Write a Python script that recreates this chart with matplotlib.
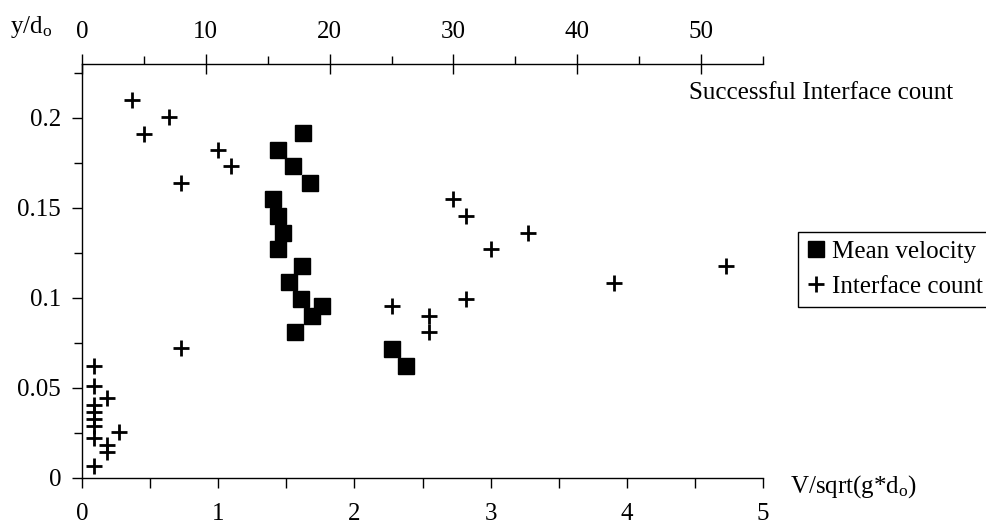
import matplotlib
matplotlib.use("Agg")
import matplotlib.pyplot as plt
from matplotlib.ticker import FixedLocator
from matplotlib.lines import Line2D

plt.rcParams['font.family'] = ['Liberation Serif', 'DejaVu Serif']
plt.rcParams['mathtext.fontset'] = 'custom'
plt.rcParams['mathtext.rm'] = 'Liberation Serif'
plt.rcParams['mathtext.it'] = 'Liberation Serif:italic'

# Mean velocity (bottom axis: V/sqrt(g*do))
mv_x = [1.62, 1.44, 1.547, 1.674, 1.405, 1.44, 1.478, 1.44, 1.613, 1.52,
        1.608, 1.764, 1.686, 1.564, 2.274, 2.379]
mv_y = [0.1917, 0.1824, 0.1732, 0.1639, 0.1547, 0.1454, 0.1361, 0.1271,
        0.1178, 0.1086, 0.0993, 0.0956, 0.0900, 0.0808, 0.0715, 0.0622]

# Interface count (top axis: successful interface count)
ic_x = [4, 7, 5, 11, 12, 8, 8, 25, 30, 31, 36, 33, 31, 43, 28, 28, 52,
        1, 1, 2, 1, 1, 1, 1, 1, 3, 2, 2, 1]
ic_y = [0.2098, 0.2006, 0.1913, 0.1824, 0.1732, 0.1639, 0.0719, 0.0956,
        0.1547, 0.1454, 0.1361, 0.1269, 0.0991, 0.1083, 0.0898, 0.0808, 0.1178,
        0.0622, 0.0511, 0.0441, 0.0404, 0.0363, 0.0326, 0.0287, 0.0219,
        0.0256, 0.0182, 0.0141, 0.0067]

bottom_ticks = [0, 1, 2, 3, 4, 5]
bottom_minor = [0.5, 1.5, 2.5, 3.5, 4.5]
top_ticks = [0, 10, 20, 30, 40, 50]
top_minor = [5, 15, 25, 35, 45, 55]
y_ticks = [0, 0.05, 0.1, 0.15, 0.2]
y_labels = ['0', '0.05', '0.1', '0.15', '0.2']
y_minor = [0.025, 0.075, 0.125, 0.175, 0.225]

fs = 18
fig = plt.figure(figsize=(9.87, 5.27), dpi=100)
ax = fig.add_axes([0.0831, 0.0935, 0.690, 0.785])
ax2 = ax.twiny()

ax.plot(mv_x, mv_y, linestyle='none', marker='s', markersize=11,
        color='black', label='Mean velocity', zorder=3)
ax2.plot(ic_x, ic_y, linestyle='none', marker='+', markersize=11,
         markeredgewidth=2.0, color='black', label='Interface count', zorder=3)

ax.set_xlim(0, 5)
ax.set_ylim(0, 0.23)
ax2.set_xlim(0, 55)

for a in (ax, ax2):
    a.spines['right'].set_visible(False)
    a.patch.set_visible(False)
ax.spines['top'].set_visible(False)
ax2.spines['bottom'].set_visible(False)
ax2.spines['left'].set_visible(False)
for s in ('left', 'bottom'):
    ax.spines[s].set_linewidth(1.0)
ax2.spines['top'].set_linewidth(1.0)

ax.set_xticks(bottom_ticks)
ax.set_xticklabels([str(t) for t in bottom_ticks])
ax.xaxis.set_minor_locator(FixedLocator(bottom_minor))
ax.set_yticks(y_ticks)
ax.set_yticklabels(y_labels)
ax.yaxis.set_minor_locator(FixedLocator(y_minor))
ax2.set_xticks(top_ticks)
ax2.set_xticklabels([str(t) for t in top_ticks])
ax2.xaxis.set_minor_locator(FixedLocator(top_minor))

ax.tick_params(axis='x', which='both', direction='out', length=7, width=1,
               labelsize=fs, pad=11)
ax.tick_params(axis='y', which='major', direction='out', length=7, width=1,
               labelsize=fs, pad=8)
ax.tick_params(axis='y', which='minor', direction='out', length=6, width=1)
ax2.tick_params(axis='x', which='major', direction='inout', length=14, width=1,
                labelsize=fs, pad=8)
ax2.tick_params(axis='x', which='minor', direction='out', length=6, width=1)

fig.text(0.010, 0.948, 'y/d$_\\mathrm{o}$', fontsize=fs, ha='left', va='center')
fig.text(0.800, 0.076, 'V/sqrt(g*d$_\\mathrm{o}$)', fontsize=fs, ha='left', va='center')
fig.text(0.698, 0.823, 'Successful Interface count', fontsize=fs, ha='left', va='center')

handles = [Line2D([], [], linestyle='none', marker='s', markersize=11, color='black'),
           Line2D([], [], linestyle='none', marker='+', markersize=11,
                  markeredgewidth=2.0, color='black')]
leg = fig.legend(handles, ['Mean velocity', 'Interface count'],
                 loc='upper left', bbox_to_anchor=(0.809, 0.560),
                 fontsize=fs, frameon=True, fancybox=False, framealpha=1,
                 edgecolor='black', handlelength=0.7, handletextpad=0.3,
                 borderpad=0.35, labelspacing=0.5, borderaxespad=0)
leg.get_frame().set_linewidth(1.0)

fig.savefig('out.png', dpi=100)
